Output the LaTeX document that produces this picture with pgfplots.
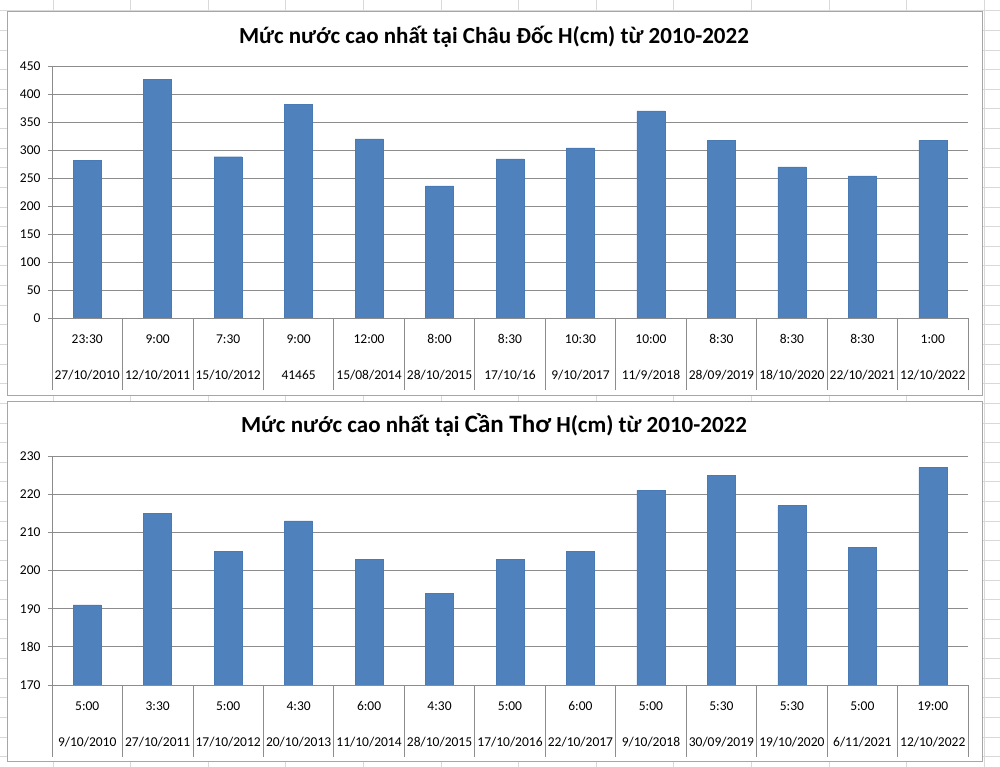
\documentclass[border=0pt]{standalone}
\usepackage{pgfplots}
\pgfplotsset{compat=1.18}
\usepackage{fontspec}
\setmainfont{Carlito}
\definecolor{barblue}{HTML}{4F81BD}
\definecolor{baredge}{HTML}{4A7AB3}
\definecolor{gridgrey}{HTML}{8C8C8C}
\definecolor{sheetgrid}{HTML}{D9D9D9}
\definecolor{framegrey}{HTML}{A6A6A6}

% values
\pgfplotstableread{
x h
0 282
1 426
2 288
3 381
4 320
5 236
6 284
7 304
8 370
9 317
10 270
11 254
12 317
}\chaudoc
\pgfplotstableread{
x h
0 191
1 215
2 205
3 213
4 203
5 194
6 203
7 205
8 221
9 225
10 217
11 206
12 227
}\cantho

\pgfplotsset{
  excelbar/.style={
    scale only axis, width=916pt,
    anchor=south west,
    xmin=-0.5, xmax=12.5,
    enlargelimits=false,
    axis x line*=bottom, axis y line*=left,
    axis line style={draw=gridgrey, line width=0.8pt, -},
    ymajorgrids, grid style={draw=gridgrey, line width=0.8pt},
    tick align=outside, major tick length=4pt,
    tick style={draw=gridgrey, line width=0.8pt},
    xtick={0,...,12},
    minor xtick={-0.5,0.5,...,12.5},
    minor tick length=72pt,
    major x tick style={draw=none},
    ticklabel style={font=\fontsize{13.5}{15}\selectfont, text=black},
    /pgf/number format/assume math mode=true,
    xticklabel style={anchor=base, yshift=-22pt},
    yticklabel style={xshift=-4pt},
    extra x ticks={0,...,12},
    extra x tick style={tick label style={yshift=-36pt}},
    ybar, bar width=28pt,
  },
}

\begin{document}
\begin{tikzpicture}[x=1pt,y=1pt]
\path[use as bounding box] (0pt,0pt) rectangle (1000pt,767pt);
% spreadsheet behind the charts
\foreach \gx in {53,130.6,...,1000} \draw[sheetgrid, line width=0.8pt] (\gx pt,0pt) -- (\gx pt,767pt);
\foreach \gy in {756.3,736.67,...,0} \draw[sheetgrid, line width=0.8pt] (0pt,\gy pt) -- (1000pt,\gy pt);
\draw[framegrey, line width=1pt, fill=white] (7pt,371pt) rectangle (982pt,755pt);
\draw[framegrey, line width=1pt, fill=white] (7pt,5pt) rectangle (982pt,365pt);

\node[anchor=base, font=\bfseries\fontsize{23}{26}\selectfont] at (494pt,723pt)
  {Mức nước cao nhất tại Châu Đốc H(cm) từ 2010-2022};
\node[anchor=base, font=\bfseries\fontsize{23}{26}\selectfont] at (494pt,334pt)
  {Mức nước cao nhất tại {\fontsize{25}{26}\selectfont Cần Thơ} H(cm) từ 2010-2022};

\begin{axis}[excelbar,
  at={(52pt,449pt)}, height=252pt,
  ymin=0, ymax=450, ytick={0,50,...,450},
  xticklabels={23:30,9:00,7:30,9:00,12:00,8:00,8:30,10:30,10:00,8:30,8:30,8:30,1:00},
  extra x tick labels={27/10/2010,12/10/2011,15/10/2012,41465,15/08/2014,28/10/2015,17/10/16,9/10/2017,11/9/2018,28/09/2019,18/10/2020,22/10/2021,12/10/2022},
]
\addplot[fill=barblue, draw=baredge] table[x=x, y=h] {\chaudoc};
\end{axis}

\begin{axis}[excelbar,
  at={(52pt,82pt)}, height=229pt,
  ymin=170, ymax=230, ytick={170,180,...,230},
  xticklabels={5:00,3:30,5:00,4:30,6:00,4:30,5:00,6:00,5:00,5:30,5:30,5:00,19:00},
  extra x tick labels={9/10/2010,27/10/2011,17/10/2012,20/10/2013,11/10/2014,28/10/2015,17/10/2016,22/10/2017,9/10/2018,30/09/2019,19/10/2020,6/11/2021,12/10/2022},
]
\addplot[fill=barblue, draw=baredge] table[x=x, y=h] {\cantho};
\end{axis}
\end{tikzpicture}
\end{document}
